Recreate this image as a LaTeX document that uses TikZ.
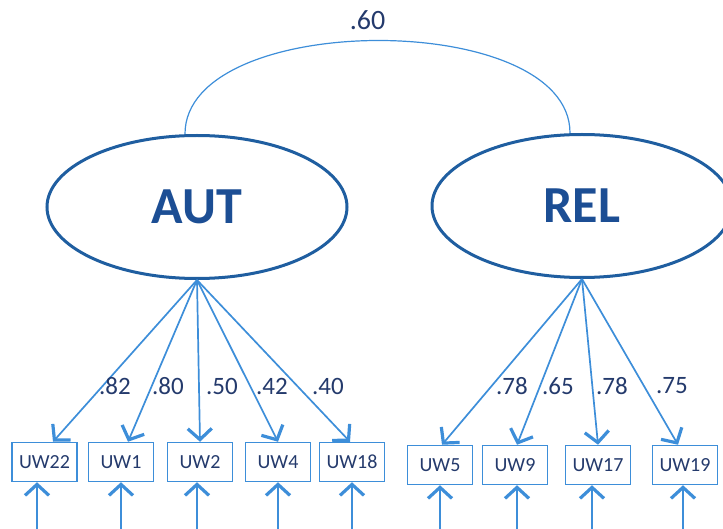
\documentclass[tikz,border=0pt]{standalone}
\usepackage{fontspec}
\setmainfont{Carlito}
\usepackage{xcolor}
\usepackage{tikz}
\usetikzlibrary{shapes.geometric, arrows.meta, calc}

\definecolor{lineblue}{RGB}{61,142,217}
\definecolor{ovalblue}{RGB}{31,94,160}
\definecolor{nameblue}{RGB}{28,78,148}
\definecolor{numblue}{RGB}{36,58,108}

\begin{document}
\begin{tikzpicture}[
    x=0.5pt, y=-0.5pt,
    factor/.style={ellipse, draw=ovalblue, line width=1.5pt, minimum width=150pt, minimum height=71.5pt, inner sep=0pt, font=\fontsize{26}{30}\selectfont\bfseries, text=nameblue},
    item/.style={rectangle, draw=lineblue, line width=0.75pt, minimum width=32.5pt, minimum height=19.5pt, inner sep=0pt, font=\fontsize{10}{12}\selectfont, text=numblue},
    load/.style={-{Straight Barb[length=5.5pt, width=12pt, line width=1.6pt]}, lineblue, line width=0.85pt},
    wt/.style={font=\fontsize{12.5}{14}\selectfont, text=numblue, inner sep=0pt}
]
\useasboundingbox (0,0) rectangle (723,529);

% Factors
\node[factor] (aut) at (197,207) {AUT};
\node[factor] (rel) at (582,206) {REL};

% Correlation
\draw[lineblue, line width=0.6pt] ([xshift=-6pt]aut.north) .. controls +(0,-124) and +(0,-124) .. ([xshift=-6pt]rel.north)
    node[midway, above=5pt, xshift=-5pt, wt, font=\fontsize{14}{16}\selectfont] (r) {.60};

% Items
\foreach \n/\x/\y in {22/44.5/462, 1/121/462, 2/200/462, 4/278/462, 18/352/462, 5/440/465, 9/515/465, 17/598/465, 19/685/465}
    \node[item] (uw\n) at (\x,\y) {UW\n};

% Loadings
\foreach \n/\sh/\w/\lx in {22/4.25/.82/115, 1/3.5/.80/168, 2/0/.50/222, 4/0/.42/272, 18/-1/.40/328}{
    \draw[load] (aut.south) -- ([xshift=\sh pt]uw\n.north);
    \node[wt] (w\n) at (\lx,386) {\w};
}
\foreach \n/\sh/\w/\lx in {5/1/.78/512, 9/1/.65/558, 17/0/.78/612, 19/-3.5/.75/672}{
    \draw[load] (rel.south) -- ([xshift=\sh pt]uw\n.north);
    \node[wt] (w\n) at (\lx,386) {\w};
}

% Errors
\foreach \n/\sh in {22/-3.75, 1/0, 2/-1.5, 4/0, 18/0, 5/0, 9/1, 17/-3, 19/-1}{
    \coordinate (e\n) at ([xshift=\sh pt, yshift=-24pt]uw\n.south);
    \draw[load] (e\n) -- ([xshift=\sh pt]uw\n.south);
}

\end{tikzpicture}
\end{document}
